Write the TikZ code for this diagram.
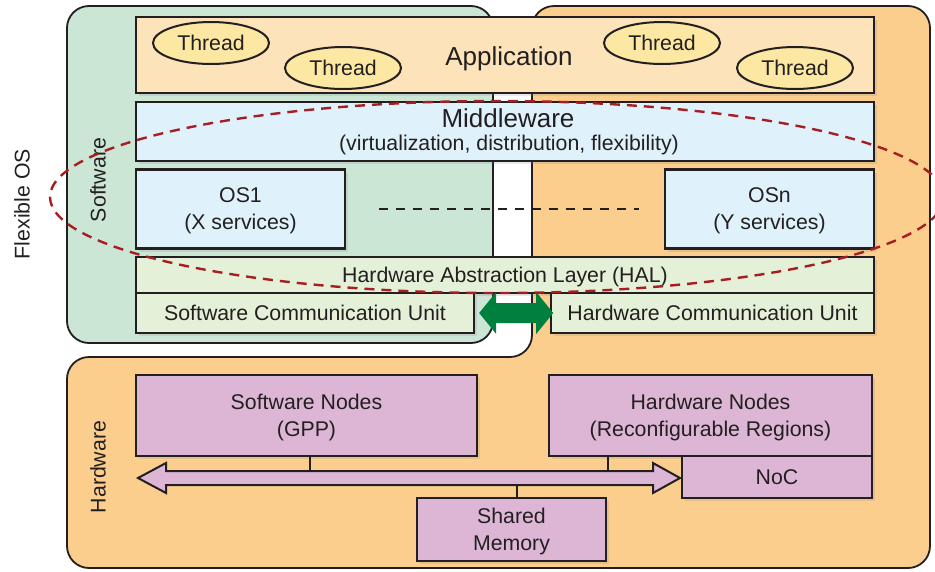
\documentclass[tikz,border=0pt]{standalone}
\usepackage{fontspec}
\setmainfont{Liberation Sans}
\usetikzlibrary{shadows,shapes.geometric}
\definecolor{txt}{HTML}{231F20}
\definecolor{linec}{HTML}{231F20}
\definecolor{swpanel}{HTML}{CCE6D6}
\definecolor{hwpanel}{HTML}{FCCE8E}
\definecolor{appfill}{HTML}{FDE3BA}
\definecolor{midfill}{HTML}{DFF1FB}
\definecolor{halfill}{HTML}{E4F0D7}
\definecolor{thrfill}{HTML}{FCE8A3}
\definecolor{pinkfill}{HTML}{DDB6D6}
\definecolor{arrgreen}{HTML}{00803E}
\definecolor{ovalred}{HTML}{A71E22}
\begin{document}
\begin{tikzpicture}[x=1pt,y=-1pt,
 every node/.style={text=txt, inner sep=0pt},
 lbl/.style={font=\fontsize{21.3}{27}\selectfont, align=center},
 bigl/.style={font=\fontsize{26}{30}\selectfont},
 blk/.style={draw=linec, line width=2.4pt, lbl, text depth=0pt, drop shadow={opacity=0.18, shadow xshift=3pt, shadow yshift=-3pt}},
 panel/.style={draw=linec, line width=1.8pt, rounded corners=22pt},
 thr/.style={ellipse, draw=linec, line width=2pt, fill=thrfill, minimum width=116pt, minimum height=42pt, lbl},
 conn/.style={draw=linec, line width=2pt},
]
\useasboundingbox (0,0) rectangle (935,571);
\clip (0,0) rectangle (935,571);
\fill[white] (0,0) rectangle (935,571);

% panels
\draw[panel, fill=swpanel] (67,6) rectangle (493,343);
\draw[panel, fill=hwpanel] (532,200) -- (532,6) -- (930,6) -- (930,568) -- (67,568) -- (67,357) -- (532,357) -- cycle;

% side labels
\node[lbl, rotate=90] (flex) at (22,204) {Flexible OS};
\node[lbl, rotate=90] (swl) at (98,180) {Software};
\node[lbl, rotate=90] (hwl) at (98,467) {Hardware};

% software stack
\node[blk, fill=appfill, minimum width=738pt, minimum height=76pt] (app) at (505,55) {};
\node[bigl, text depth=0pt] (appT) at (509,56) {Application};
\node[thr] (t1) at (211,43) {Thread};
\node[thr] (t2) at (343,68) {Thread};
\node[thr] (t3) at (662,43) {Thread};
\node[thr] (t4) at (795,68) {Thread};

\node[blk, fill=midfill, minimum width=738pt, minimum height=59pt] (mid) at (505,131.5) {};
\node[bigl] (midT) at (508,118) {Middleware};
\node[lbl] (midS) at (509,145) {(virtualization, distribution, flexibility)};

\node[blk, fill=midfill, minimum width=209pt, minimum height=79pt] (os1) at (240.5,209) {OS1\\(X services)};
\node[blk, fill=midfill, minimum width=209pt, minimum height=79pt] (osn) at (769.5,209) {OSn\\(Y services)};
\draw[linec, line width=2pt, dash pattern=on 9pt off 8pt] ([xshift=33pt]os1.east) -- ([xshift=-25pt]osn.west);

\node[blk, fill=halfill, minimum width=738pt, minimum height=36pt] (hal) at (505,275) {Hardware Abstraction Layer (HAL)};
\node[blk, fill=halfill, minimum width=338pt, minimum height=40pt] (scu) at (305,313) {Software Communication Unit};
\node[blk, fill=halfill, minimum width=323pt, minimum height=40pt] (hcu) at (712.5,313) {Hardware Communication Unit};

% green double arrow
\fill[arrgreen] ([xshift=4pt]scu.east) -- ++(17,-21) -- ++(0,11) -- ++(40,0) -- ++(0,-11) -- ++(17,21)
  -- ++(-17,21) -- ++(0,-11) -- ++(-40,0) -- ++(0,11) -- cycle;

% hardware
\node[blk, fill=pinkfill, minimum width=341pt, minimum height=81pt] (swn) at (306.5,415.5) {Software Nodes\\(GPP)};
\node[blk, fill=pinkfill, minimum width=323pt, minimum height=81pt] (hwn) at (710.5,415.5) {Hardware Nodes\\(Reconfigurable Regions)};
\node[blk, fill=pinkfill, minimum width=190pt, minimum height=42pt] (noc) at (777,477) {NoC};
\node[blk, fill=pinkfill, minimum width=189pt, minimum height=63pt] (shm) at (511.5,529.5) {Shared\\Memory};

\coordinate (busL) at (138,478);
\draw[conn] ([xshift=3.5pt]swn.south) -- ++(0,15);
\draw[conn] ([xshift=-102.5pt]hwn.south) -- ++(0,15);
\draw[conn] ([xshift=5.5pt]shm.north) -- ++(0,-13);
\draw[conn, fill=pinkfill, line join=miter] (busL) -- ++(28,-15) -- ++(0,8) -- ++(487,0) -- ++(0,-8) -- ++(27,15)
  -- ++(-27,15) -- ++(0,-8) -- ++(-487,0) -- ++(0,8) -- cycle;

% flexible OS oval
\draw[ovalred, line width=2.4pt, dash pattern=on 10pt off 7pt] (497,197) ellipse [x radius=447, y radius=96];
\end{tikzpicture}
\end{document}
